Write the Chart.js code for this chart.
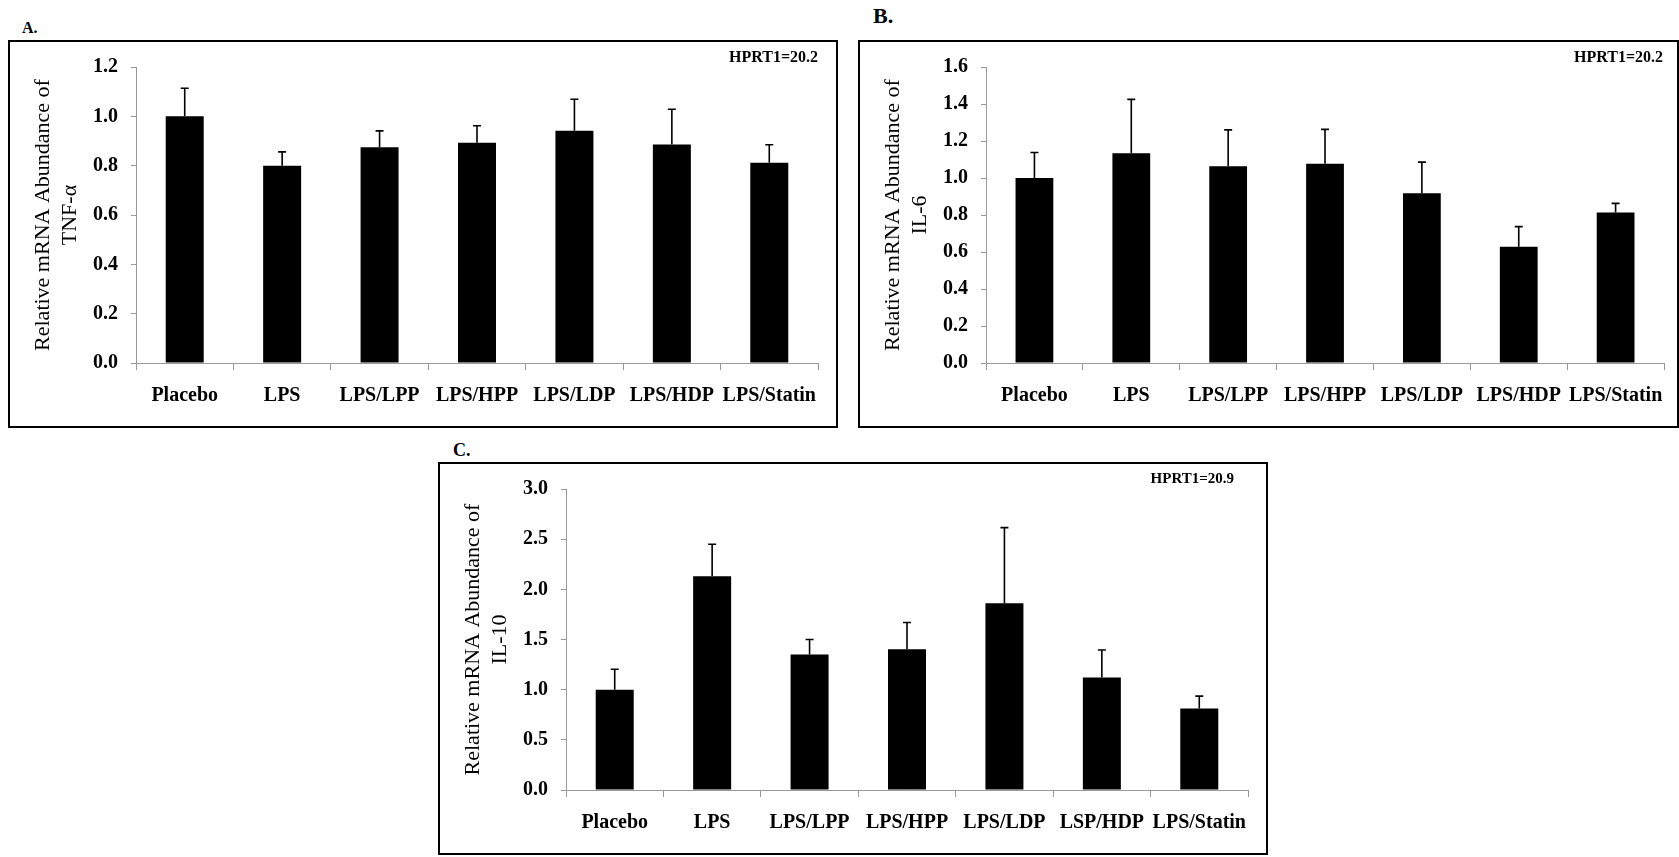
<!DOCTYPE html>
<html>
<head>
<meta charset="utf-8">
<script src="https://cdn.jsdelivr.net/npm/chart.js@4.4.1/dist/chart.umd.min.js"></script>
<style>
  body { margin: 0; background: #fff; width: 1679px; height: 857px; position: relative; overflow: hidden; font-family: "Liberation Serif", "Times New Roman", serif; }
  .box { position: absolute; border: 2px solid #000; box-sizing: border-box; }
  .box canvas { position: absolute; left: 0; top: 0; }
  .lbl { position: absolute; font-weight: bold; line-height: 1; white-space: nowrap; }
  .hprt { position: absolute; font-weight: bold; font-size: 16px; line-height: 1; white-space: nowrap; text-align: right; }
</style>
</head>
<body>
<div class="lbl" style="left:22px; top:20px; font-size:16px;">A.</div>
<div class="lbl" style="left:873px; top:5px; font-size:22px;">B.</div>
<div class="lbl" style="left:453px; top:441px; font-size:18px;">C.</div>

<div class="box" id="boxA" style="left:8px; top:40px; width:830px; height:388px;"><canvas id="chartA"></canvas></div>
<div class="box" id="boxB" style="left:858px; top:40px; width:821px; height:388px;"><canvas id="chartB"></canvas></div>
<div class="box" id="boxC" style="left:438px; top:462px; width:830px; height:393px;"><canvas id="chartC"></canvas></div>

<div class="hprt" style="right:861px; top:49px;">HPRT1=20.2</div>
<div class="hprt" style="right:16px; top:49px;">HPRT1=20.2</div>
<div class="hprt" style="right:445px; top:471px; font-size:15px;">HPRT1=20.9</div>

<script>
"use strict";
// categorieen
const groepenAB = ['Placebo', 'LPS', 'LPS/LPP', 'LPS/HPP', 'LPS/LDP', 'LPS/HDP', 'LPS/Statin'];
const groepenC = ['Placebo', 'LPS', 'LPS/LPP', 'LPS/HPP', 'LPS/LDP', 'LSP/HDP', 'LPS/Statin'];

// A. TNF-alpha
const tnfGem = [1.0, 0.80, 0.875, 0.893, 0.942, 0.886, 0.812];
const tnfSd = [0.114, 0.056, 0.066, 0.069, 0.127, 0.143, 0.073];
const tnfTicks = [0, 1.2, 0.2];

// B. IL-6
const il6Gem = [1.0, 1.134, 1.063, 1.077, 0.918, 0.629, 0.813];
const il6Sd = [0.138, 0.291, 0.197, 0.186, 0.168, 0.108, 0.05];
const il6Ticks = [0, 1.6, 0.2];

// C. IL-10
const il10Gem = [1.0, 2.13, 1.35, 1.402, 1.862, 1.122, 0.812];
const il10Sd = [0.203, 0.319, 0.15, 0.268, 0.753, 0.274, 0.124];
const il10Ticks = [0, 3.0, 0.5];

const lettertype = '"Liberation Serif", "Times New Roman", serif';
const grijs = '#9a9a9a';

// foutbalken tekenen via de y-schaal
const foutbalken = {
    id: 'foutbalken',
    afterDatasetsDraw(chart) {
        const c = chart.ctx;
        const yAs = chart.scales.y;
        const meta = chart.getDatasetMeta(0);
        const gem = chart.data.datasets[0].data;
        const sd = chart.data.datasets[0].sd;
        c.save();
        c.strokeStyle = '#000';
        c.lineWidth = 1.6;
        meta.data.forEach((bar, i) => {
            const yTop = yAs.getPixelForValue(gem[i] + sd[i]);
            c.beginPath();
            c.moveTo(bar.x, bar.y);
            c.lineTo(bar.x, yTop);
            c.moveTo(bar.x - 4, yTop);
            c.lineTo(bar.x + 4, yTop);
            c.stroke();
        });
        c.restore();
    }
};

// plot: {left, top, right, bottom} in paginacoordinaten
function maakGrafiek(boxId, canvasId, labels, gem, sd, ticks, titel, plot) {
    const box = document.getElementById(boxId);
    const r = box.getBoundingClientRect();
    const binnenL = r.left + 2, binnenT = r.top + 2;
    const binnenR = r.right - 2, binnenB = r.bottom - 2;
    const canvas = document.getElementById(canvasId);
    canvas.width = binnenR - binnenL;
    canvas.height = binnenB - binnenT;
    canvas.style.width = canvas.width + 'px';
    canvas.style.height = canvas.height + 'px';

    return new Chart(canvas, {
        type: 'bar',
        data: {
            labels: labels,
            datasets: [{
                data: gem,
                sd: sd,
                backgroundColor: '#000',
                borderWidth: 0,
                barPercentage: 0.39,
                categoryPercentage: 1.0
            }]
        },
        options: {
            responsive: false,
            animation: false,
            layout: {
                padding: { left: 0, top: plot.top - binnenT, right: binnenR - plot.right, bottom: 0 }
            },
            plugins: { legend: { display: false }, tooltip: { enabled: false } },
            scales: {
                x: {
                    grid: { drawOnChartArea: false, color: grijs, tickLength: 7, offset: true },
                    border: { color: grijs, width: 1 },
                    ticks: { color: '#000', padding: 14, maxRotation: 0, autoSkip: false,
                        font: { family: lettertype, size: 20, weight: 'bold' } },
                    afterFit: (s) => { s.height = binnenB - plot.bottom; }
                },
                y: {
                    min: ticks[0],
                    max: ticks[1],
                    grid: { drawOnChartArea: false, color: grijs, tickLength: 5 },
                    border: { color: grijs, width: 1 },
                    ticks: { stepSize: ticks[2], color: '#000', padding: 13,
                        font: { family: lettertype, size: 20, weight: 'bold' },
                        callback: (v) => v.toFixed(1) },
                    title: {
                        display: true,
                        text: titel,
                        color: '#000',
                        padding: { top: 19.5, bottom: 0 },
                        font: { family: lettertype, size: 22, lineHeight: 1.23 }
                    },
                    afterFit: (s) => { s.width = plot.left - binnenL; }
                }
            }
        },
        plugins: [foutbalken]
    });
}

maakGrafiek('boxA', 'chartA', groepenAB, tnfGem, tnfSd, tnfTicks,
    ['Relative mRNA Abundance of', 'TNF-\u03B1'], { left: 136, top: 62, right: 818, bottom: 363 });
maakGrafiek('boxB', 'chartB', groepenAB, il6Gem, il6Sd, il6Ticks,
    ['Relative mRNA Abundance of', 'IL-6'], { left: 986, top: 62, right: 1667, bottom: 363 });
maakGrafiek('boxC', 'chartC', groepenC, il10Gem, il10Sd, il10Ticks,
    ['Relative mRNA Abundance of', 'IL-10'], { left: 566, top: 483, right: 1248, bottom: 790 });
</script>
</body>
</html>
